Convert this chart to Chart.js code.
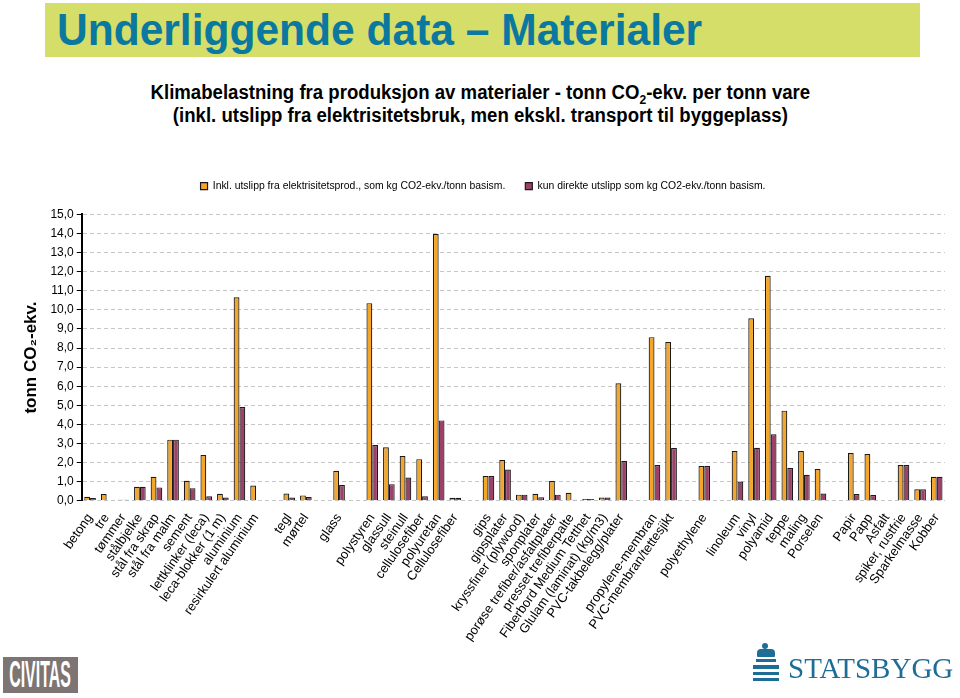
<!DOCTYPE html>
<html>
<head>
<meta charset="utf-8">
<script src="https://cdn.jsdelivr.net/npm/chart.js@4.4.0/dist/chart.umd.min.js"></script>
<style>
  body { margin: 0; width: 960px; height: 698px; background: #fff; position: relative; overflow: hidden; font-family: "Liberation Sans", Arial, sans-serif; }
  .banner { position: absolute; left: 45px; top: 3px; width: 875px; height: 54px; background: #d4de68; }
  .banner h1 { margin: 0; position: absolute; left: 12px; top: 1px; font-size: 45px; font-weight: bold; color: #0b78a0; white-space: nowrap; transform: scaleX(0.945); transform-origin: left center; }
  .subtitle { position: absolute; left: -100px; width: 1160px; top: 81px; text-align: center; font-weight: bold; font-size: 20px; line-height: 23px; color: #000; transform: scaleX(0.93); transform-origin: 585px 0; }
  .subtitle sub { font-size: 13px; line-height: 0; }
  .chart-wrap { position: absolute; left: 0; top: 161px; width: 960px; height: 485px; }
  .civitas { position: absolute; left: 3px; top: 657px; width: 75px; height: 36px; background: #7d7574; overflow: hidden; }
  .civitas span { position: absolute; left: -63px; top: -2px; width: 200px; text-align: center; color: #fff; font-weight: bold; font-size: 37px; line-height: 40px; transform: scaleX(0.43); transform-origin: center; }
  .statsbygg { position: absolute; left: 788px; top: 652px; font-family: "Liberation Serif", "DejaVu Serif", serif; font-size: 29px; color: #1d6d96; }
  .icon { position: absolute; left: 752px; top: 643px; width: 28px; height: 42px; }
  .icon div { position: absolute; background: #1d6d96; }
</style>
</head>
<body>
<div class="banner"><h1>Underliggende data – Materialer</h1></div>
<div class="subtitle">Klimabelastning fra produksjon av materialer - tonn CO<sub>2</sub>-ekv. per tonn vare<br>(inkl. utslipp fra elektrisitetsbruk, men ekskl. transport til byggeplass)</div>
<div class="chart-wrap"><canvas id="materialChart"></canvas></div>
<div class="civitas"><span>CIVITAS</span></div>
<div class="icon">
  <div style="left:10px;top:0;width:6px;height:6px;border-radius:3px"></div>
  <div style="left:5px;top:6px;width:18px;height:8px;border-radius:4px 4px 1px 1px"></div>
  <div style="left:4px;top:16px;width:20px;height:3px"></div>
  <div style="left:1px;top:22px;width:26px;height:4px"></div>
  <div style="left:1px;top:29px;width:26px;height:3px"></div>
  <div style="left:1px;top:35px;width:26px;height:3px"></div>
</div>
<div class="statsbygg">STATSBYGG</div>
<script>
const categories = [
    'betong', 'tre', 'tømmer', 'stålbjelke', 'stål fra skrap', 'stål fra malm', 'sement',
    'lettklinker (leca)', 'leca-blokker (1 m)', 'aluminium', 'resirkulert aluminium', '',
    'tegl', 'mørtel', '', 'glass', '',
    'polystyren', 'glassull', 'steinull', 'cellulosefiber', 'polyuretan', 'Cellulosefiber', '',
    'gips', 'gipsplater', 'kryssfiner (plywood)', 'sponplater', 'porøse trefiber/asfaltplater',
    'presset trefiberpalte', 'Fiberbord Medium Tetthet', 'Glulam (laminat) (kg/m3)', 'PVC-takbelegg/plater', '',
    'propylene-membran', 'PVC-membran/tettesjikt', '', 'polyethylene', '',
    'linoleum', 'vinyl', 'polyamid', 'teppe', 'maling', 'Porselen', '',
    'Papir', 'Papp', 'Asfalt', 'spiker, rustfrie', 'Sparkelmasse', 'Kobber'
];

// inkl. utslipp fra elektrisitetsproduksjon
const inklElektrisitet = [
    0.21, 0.35, 0.05, 0.73, 1.26, 3.2, 1.05, 2.4, 0.37, 10.66, 0.8, null,
    0.38, 0.28, null, 1.57, null,
    10.35, 2.8, 2.34, 2.18, 13.97, 0.16, null,
    1.3, 2.13, 0.32, 0.37, 1.03, 0.42, 0.09, 0.17, 6.15, null,
    8.57, 8.32, null, 1.82, null,
    2.6, 9.56, 11.78, 4.72, 2.6, 1.66, null,
    2.5, 2.45, 0.03, 1.87, 0.6, 1.26
];

// kun direkte utslipp
const direkteUtslipp = [
    0.14, 0.03, 0.05, 0.73, 0.7, 3.2, 0.66, 0.23, 0.17, 4.91, 0.03, null,
    0.17, 0.2, null, 0.82, null,
    2.92, 0.87, 1.22, 0.23, 4.21, 0.16, null,
    1.3, 1.64, 0.32, 0.19, 0.32, 0.05, 0.09, 0.17, 2.08, null,
    1.87, 2.76, null, 1.82, null,
    1.01, 2.78, 3.48, 1.71, 1.36, 0.38, null,
    0.35, 0.3, 0.03, 1.87, 0.6, 1.26
];

const seriesNames = [
    'Inkl. utslipp fra elektrisitetsprod., som kg CO2-ekv./tonn basism.',
    'kun direkte utslipp som kg CO2-ekv./tonn basism.'
];

const chartData = {
    labels: categories,
    datasets: [
        {
            label: seriesNames[0],
            data: inklElektrisitet,
            backgroundColor: '#f4a62a',
            borderColor: '#1a1a1a',
            borderWidth: 1.2,
            categoryPercentage: 0.7,
            barPercentage: 1.0,
        },
        {
            label: seriesNames[1],
            data: direkteUtslipp,
            backgroundColor: '#9b416a',
            borderColor: '#1a1a1a',
            borderWidth: 1.2,
            categoryPercentage: 0.7,
            barPercentage: 1.0,
        },
    ],
};

// extra room between legend and plot
const legendGap = {
    id: 'legendGap',
    beforeInit(chart) {
        const fit = chart.legend.fit;
        chart.legend.fit = function () {
            fit.bind(chart.legend)();
            this.height += 13;
        };
    }
};

const options = {
    responsive: true,
    maintainAspectRatio: false,
    animation: false,
    layout: {
        padding: { left: 21, right: 15, top: 0, bottom: 0 }
    },
    plugins: {
        legend: {
            position: 'top',
            labels: {
                color: '#000',
                boxWidth: 7,
                boxHeight: 7,
                padding: 20,
                font: { family: 'Liberation Sans', size: 10.4 }
            }
        },
        tooltip: { enabled: false },
    },
    scales: {
        x: {
            grid: { display: false },
            border: { display: false },
            ticks: {
                color: '#000',
                autoSkip: false,
                minRotation: 55,
                maxRotation: 55,
                padding: 2,
                font: { family: 'Liberation Sans', size: 13 }
            }
        },
        y: {
            min: 0,
            max: 15,
            border: { display: true, color: '#000', width: 2, dash: [4, 3] },
            grid: { color: '#c6c6c6', lineWidth: 1, tickColor: '#000', tickLength: 5 },
            ticks: {
                stepSize: 1,
                color: '#000',
                padding: 3,
                font: { family: 'Liberation Sans', size: 12 },
                callback: value => value.toFixed(1).replace('.', ',')
            },
            title: {
                display: true,
                text: 'tonn CO₂-ekv.',
                color: '#000',
                padding: { top: 0, bottom: 6 },
                font: { family: 'Liberation Sans', size: 17, weight: 'bold' }
            }
        }
    }
};

const ctx = document.getElementById('materialChart').getContext('2d');
new Chart(ctx, {
    type: 'bar',
    data: chartData,
    options: options,
    plugins: [legendGap],
});
</script>
</body>
</html>
